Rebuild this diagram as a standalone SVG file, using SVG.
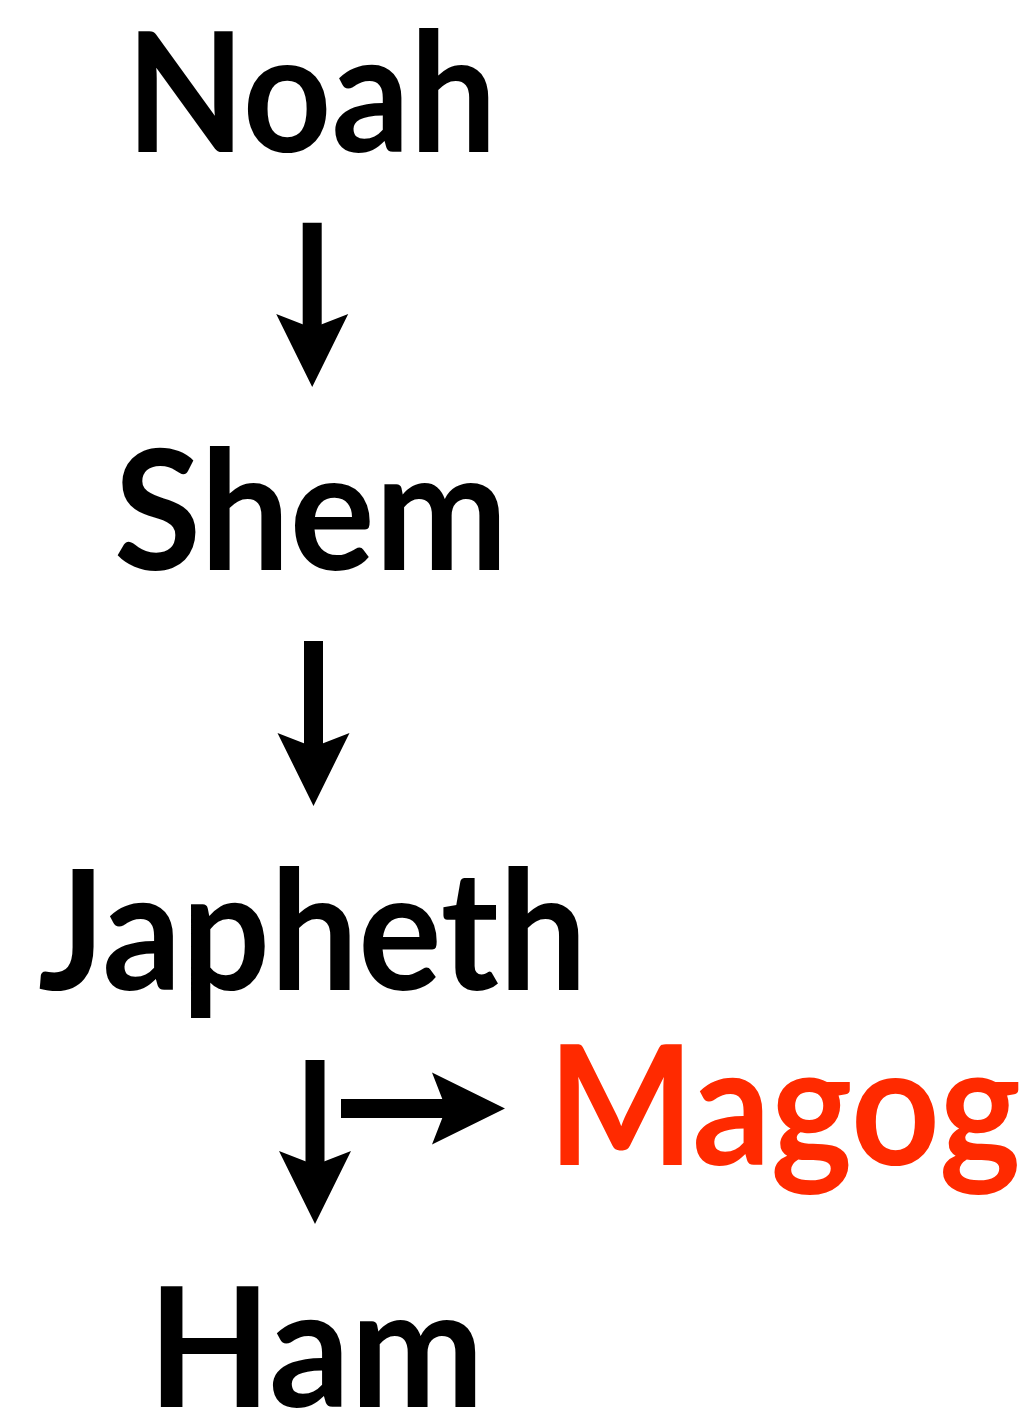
<svg xmlns="http://www.w3.org/2000/svg" width="1030" height="1415" viewBox="0 0 1030 1415">
<style>
.n{font-family:Lato,"DejaVu Sans",sans-serif;font-weight:bold;font-size:166px;fill:#000}
.r{fill:#FF2A00}
.c{stroke:#000;stroke-width:19;fill:none}
</style>
<defs>
<marker id="ah" markerUnits="userSpaceOnUse" orient="auto" refX="14" refY="36" markerWidth="74" markerHeight="73" viewBox="0 0 74 73" overflow="visible">
<path d="M0,0 L73,36 L0,72 L14,36 Z" fill="#000"/>
</marker>
</defs>
<rect width="1030" height="1415" fill="#fff"/>
<g id="connectors">
<line class="c" x1="312.2" y1="222.7" x2="312.2" y2="328" marker-end="url(#ah)"/>
<line class="c" x1="313.5" y1="641" x2="313.5" y2="747" marker-end="url(#ah)"/>
<line class="c" x1="315" y1="1060" x2="315" y2="1165" marker-end="url(#ah)"/>
<line class="c" x1="341" y1="1108.5" x2="446" y2="1108.5" marker-end="url(#ah)"/>
</g>
<g id="noah"><text class="n" x="126" y="152" textLength="371" lengthAdjust="spacingAndGlyphs">Noah</text></g>
<g id="shem"><text class="n" x="114" y="570" textLength="394" lengthAdjust="spacingAndGlyphs">Shem</text></g>
<g id="japheth"><text class="n" x="38" y="990" textLength="549" lengthAdjust="spacingAndGlyphs">Japheth</text></g>
<g id="magog"><text class="n r" x="548" y="1165" textLength="473" lengthAdjust="spacingAndGlyphs">Magog</text></g>
<g id="ham"><text class="n" x="148" y="1407" textLength="336" lengthAdjust="spacingAndGlyphs">Ham</text></g>
</svg>
